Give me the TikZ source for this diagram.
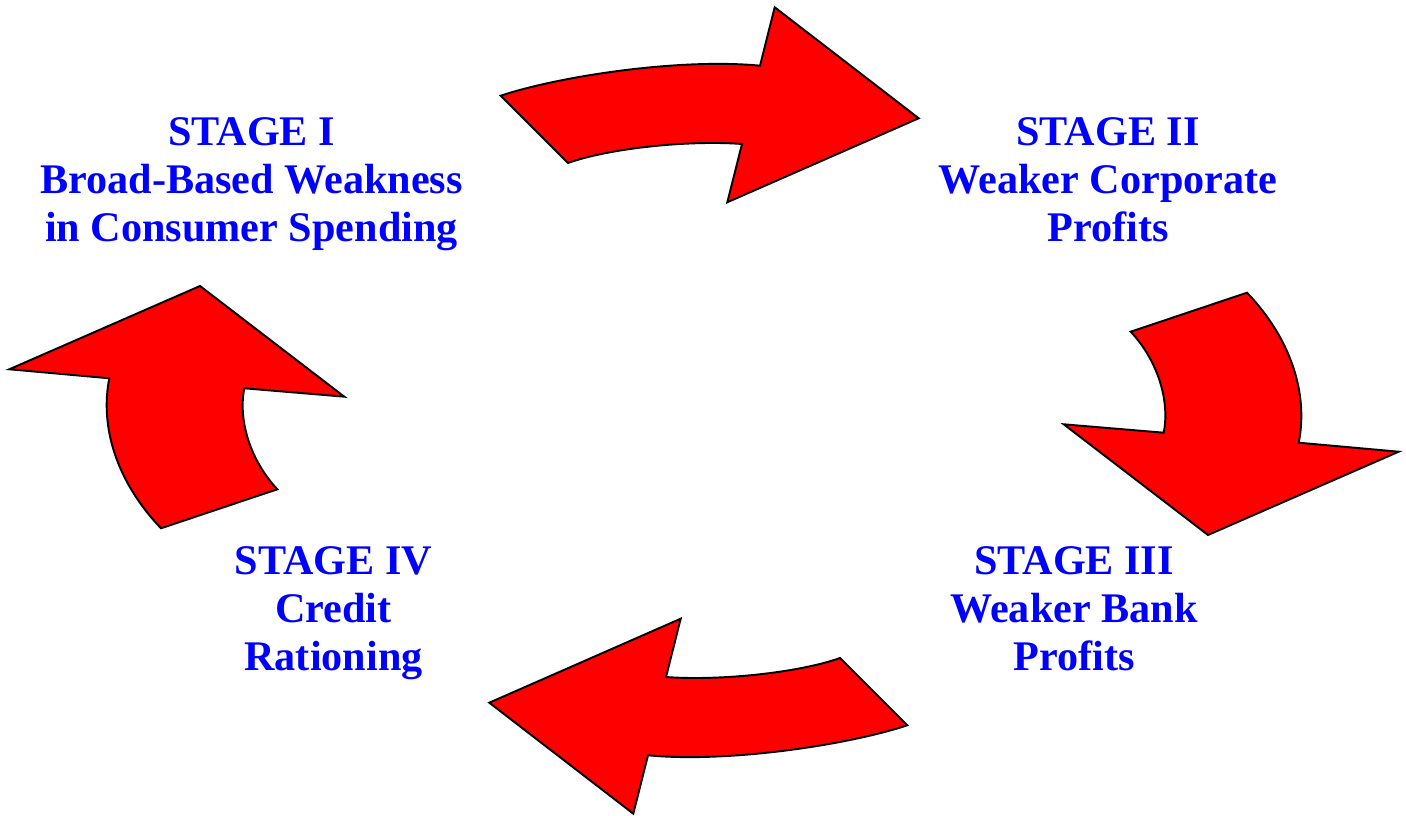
\documentclass[tikz,border=0pt]{standalone}
\usepackage{fontspec}
\setmainfont{Liberation Serif}
\definecolor{arrowred}{RGB}{255,0,0}
\definecolor{stageblue}{RGB}{0,0,255}
\tikzset{
  bigarrow/.style={fill=arrowred, draw=black, line width=0.55pt, line join=miter},
  stagetext/.style={text=stageblue, align=center, inner sep=0pt, anchor=north,
    font=\fontsize{12}{13.66}\selectfont\bfseries}
}
\begin{document}
\begin{tikzpicture}[x=0.01cm, y=-0.01cm]
\fill[white] (0,0) rectangle (1406,816);
\useasboundingbox (0,0) rectangle (1406,816);

% top arrow (Stage I -> Stage II)
\path[bigarrow] (500.7,95.7) .. controls (560,76) and (680,58) .. (760,65.7)
  -- (774.7,7.3) -- (918.7,118.3) -- (727.3,202.3) -- (742,144)
  .. controls (690,140) and (610,148) .. (568,163) -- cycle;

% right arrow (Stage II -> Stage III)
\path[bigarrow] (1298.7,442.7) -- (1398.7,451.7) -- (1208,535) -- (1063.7,424.3)
  -- (1163.7,432.7) .. controls (1170,401) and (1158,361) .. (1130.7,331.7)
  -- (1247,292.7) .. controls (1293,341) and (1308,396) .. (1298.7,442.7) -- cycle;

% bottom arrow (Stage III -> Stage IV)
\path[bigarrow] (907.3,725.3) .. controls (848,745) and (728,763) .. (648,755.3)
  -- (633.3,813.7) -- (489.3,702.7) -- (680.7,618.7) -- (666,677)
  .. controls (718,681) and (798,673) .. (840,658) -- cycle;

% left arrow (Stage IV -> Stage I)
\path[bigarrow] (109.3,378.3) -- (9.3,369.3) -- (200,286) -- (344.3,396.7)
  -- (244.3,388.3) .. controls (238,420) and (250,460) .. (277.3,489.3)
  -- (161,528.3) .. controls (115,480) and (100,425) .. (109.3,378.3) -- cycle;

\node[stagetext] (s1) at (251.5,111) {\strut STAGE I\\Broad-Based Weakness\\in Consumer Spending};
\node[stagetext] (s2) at (1108,111) {\strut STAGE II\\Weaker Corporate\\Profits};
\node[stagetext] (s3) at (1074,540) {\strut STAGE III\\Weaker Bank\\Profits};
\node[stagetext] (s4) at (333.5,540) {\strut STAGE IV\\Credit\\Rationing};
\end{tikzpicture}
\end{document}
